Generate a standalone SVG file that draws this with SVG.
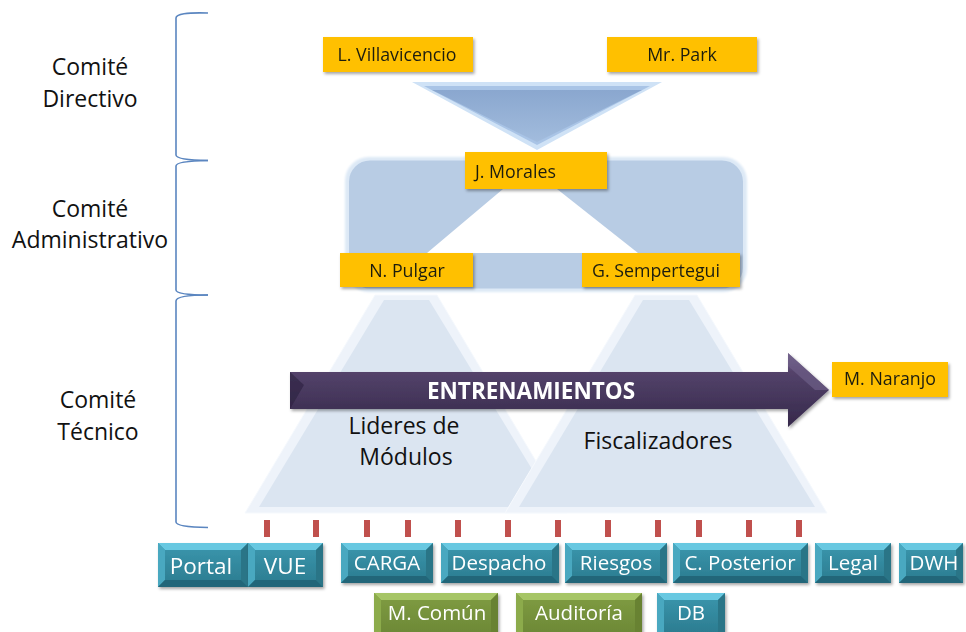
<svg xmlns="http://www.w3.org/2000/svg" width="966" height="632" viewBox="0 0 966 632">
<defs>
  <filter id="sh" x="-10%" y="-10%" width="130%" height="140%">
    <feDropShadow dx="1.5" dy="2" stdDeviation="1.5" flood-color="#000" flood-opacity="0.35"/>
  </filter>
  <filter id="glow" x="-10%" y="-10%" width="120%" height="120%">
    <feGaussianBlur stdDeviation="1.2"/>
  </filter>
  <linearGradient id="teal" x1="0" y1="0" x2="0" y2="1">
    <stop offset="0" stop-color="#3B97AE"/>
    <stop offset="1" stop-color="#2B7B8F"/>
  </linearGradient>
  <linearGradient id="green" x1="0" y1="0" x2="0" y2="1">
    <stop offset="0" stop-color="#809D42"/>
    <stop offset="1" stop-color="#6C8836"/>
  </linearGradient>
  <linearGradient id="purple" x1="0" y1="0" x2="0" y2="1">
    <stop offset="0" stop-color="#7D6C95"/>
    <stop offset="0.25" stop-color="#54436B"/>
    <stop offset="1" stop-color="#35284A"/>
  </linearGradient>
  <linearGradient id="funnel" x1="0" y1="0" x2="0" y2="1">
    <stop offset="0" stop-color="#8AA7CF"/>
    <stop offset="1" stop-color="#A2BCDD"/>
  </linearGradient>
  <style>
    .lbl{font-family:"Open Sans","Liberation Sans",sans-serif;font-size:23px;fill:#111;text-anchor:middle}
    .name{font-family:"Open Sans","Liberation Sans",sans-serif;font-size:17.8px;fill:#1E1E10;text-anchor:middle}
    .orange{fill:#FFC000}
    .mod{font-family:"Open Sans","Liberation Sans",sans-serif;font-size:20.5px;fill:#FFFFFF;text-anchor:middle}
    .brace{fill:none;stroke:#5B86C0;stroke-width:1.6}
    .tick{fill:#C0504D}
    .tri-out{fill:#EEF3FA;stroke:#F6F9FD;stroke-width:1}
    .tri-in{fill:#DBE5F1}
    .bt{fill:#68C8E1}.bl{fill:#48A8C0}.br{fill:#2A7487}.bb{fill:#246679}
    .gt{fill:#A6C566}.gl{fill:#8CAB4C}.gr{fill:#688232}.gb{fill:#5A712B}
  </style>
</defs>
<rect width="966" height="632" fill="#FFFFFF"/>

<!-- level labels -->
<g id="label-directivo">
  <text class="lbl" x="90" y="75">Comité</text>
  <text class="lbl" x="90" y="107">Directivo</text>
</g>
<g id="label-administrativo">
  <text class="lbl" x="90" y="217">Comité</text>
  <text class="lbl" x="90" y="248">Administrativo</text>
</g>
<g id="label-tecnico">
  <text class="lbl" x="98" y="408">Comité</text>
  <text class="lbl" x="98" y="440">Técnico</text>
</g>

<!-- brackets -->
<g id="brackets">
  <path class="brace" d="M208,13 Q176,12 176,18 V155 Q176,160 208,160.5"/>
  <path class="brace" d="M208,160.5 Q176,161 176,166 V290 Q176,295 208,295"/>
  <path class="brace" d="M208,295 Q176,295 176,301 V522 Q176,527 208,527.5"/>
</g>

<!-- Directivo funnel -->
<g id="funnel-directivo">
  <polygon points="412,82 662,82 537,150" fill="#CFE2F6"/>
  <polygon points="424,86 650,86 537,145" fill="#A9C4E6"/>
  <polygon points="432,90 642,90 537,142" fill="url(#funnel)"/>
</g>

<!-- Administrativo panel -->
<g id="panel-administrativo">
  <rect x="345" y="157" width="402" height="135" rx="24" fill="#DDE9F6" filter="url(#glow)"/>
  <rect x="349" y="160.5" width="394" height="128" rx="21" fill="#B8CCE4"/>
  <polygon points="503,189 557,189 638,253 427,253" fill="#FFFFFF"/>
</g>

<!-- Tecnico triangles -->
<g id="triangle-lideres">
  <polygon class="tri-out" points="375,295 437,295 567,513 245,513"/>
  <polygon class="tri-in" points="384,300 429,300 555,507 259,507"/>
  <text class="lbl" x="404" y="434">Lideres de</text>
  <text class="lbl" x="406" y="465">Módulos</text>
</g>
<g id="triangle-fiscalizadores">
  <polygon class="tri-out" points="635,295 697,295 827,513 505,513"/>
  <polygon class="tri-in" points="643,300 689,300 815,507 519,507"/>
  <text class="lbl" x="658" y="449">Fiscalizadores</text>
</g>

<!-- people -->
<g id="node-villavicencio" filter="url(#sh)">
  <rect class="orange" x="323" y="37" width="150" height="35"/>
  <text class="name" x="397" y="61">L. Villavicencio</text>
</g>
<g id="node-park" filter="url(#sh)">
  <rect class="orange" x="607" y="37" width="150" height="35"/>
  <text class="name" x="682" y="61">Mr. Park</text>
</g>
<g id="node-morales" filter="url(#sh)">
  <rect class="orange" x="465" y="152" width="142" height="37"/>
  <text class="name" x="475" y="178" style="text-anchor:start">J. Morales</text>
</g>
<g id="node-pulgar" filter="url(#sh)">
  <rect class="orange" x="340" y="253" width="133" height="34"/>
  <text class="name" x="407" y="277">N. Pulgar</text>
</g>
<g id="node-sempertegui" filter="url(#sh)">
  <rect class="orange" x="582" y="253" width="158" height="34"/>
  <text class="name" x="656" y="277">G. Sempertegui</text>
</g>

<!-- training arrow -->
<g id="arrow-entrenamientos" filter="url(#sh)">
  <path d="M290,372 H788 V353 L829,390 L788,427 V409 H290 Z" fill="url(#purple)"/>
  <path d="M290,372 L304,385 L290,409 Z" fill="#2C2140" opacity="0.6"/>
  <path d="M788,353 L829,390 L815,390 L788,366 Z" fill="#6E5E88" opacity="0.7"/>
  <text x="531" y="399" style="font-family:'Open Sans','Liberation Sans',sans-serif;font-size:22.5px;font-weight:bold;fill:#FFFFFF;text-anchor:middle">ENTRENAMIENTOS</text>
</g>

<g id="node-naranjo" filter="url(#sh)">
  <rect class="orange" x="832" y="362" width="116" height="35"/>
  <text class="name" x="890" y="385">M. Naranjo</text>
</g>

<!-- red ticks -->
<g id="connectors">
  <rect class="tick" x="264" y="520" width="6" height="17"/>
  <rect class="tick" x="313" y="520" width="6" height="17"/>
  <rect class="tick" x="364" y="520" width="6" height="17"/>
  <rect class="tick" x="405" y="520" width="6" height="17"/>
  <rect class="tick" x="455" y="520" width="6" height="17"/>
  <rect class="tick" x="505" y="520" width="6" height="17"/>
  <rect class="tick" x="555" y="520" width="6" height="17"/>
  <rect class="tick" x="605" y="520" width="6" height="17"/>
  <rect class="tick" x="655" y="520" width="6" height="17"/>
  <rect class="tick" x="696" y="520" width="6" height="17"/>
  <rect class="tick" x="746" y="520" width="6" height="17"/>
  <rect class="tick" x="796" y="520" width="6" height="17"/>
</g>

<!-- modules row 1 -->
<g id="mod-portal" filter="url(#sh)">
  <rect x="158" y="543" width="90" height="44" fill="url(#teal)"/>
  <polygon class="bt" points="158,543 248,543 241,550 165,550"/>
  <polygon class="bl" points="158,543 165,550 165,580 158,587"/>
  <polygon class="br" points="248,543 248,587 241,580 241,550"/>
  <polygon class="bb" points="158,587 165,580 241,580 248,587"/>
  <text class="mod" x="201" y="574" style="font-size:22.5px">Portal</text>
</g>
<g id="mod-vue" filter="url(#sh)">
  <rect x="248" y="543" width="75" height="44" fill="url(#teal)"/>
  <polygon class="bt" points="248,543 323,543 316,550 255,550"/>
  <polygon class="bl" points="248,543 255,550 255,580 248,587"/>
  <polygon class="br" points="323,543 323,587 316,580 316,550"/>
  <polygon class="bb" points="248,587 255,580 316,580 323,587"/>
  <text class="mod" x="285" y="574" style="font-size:22.5px">VUE</text>
</g>
<g id="mod-carga" filter="url(#sh)">
  <rect x="341" y="543" width="92" height="40" fill="url(#teal)"/>
  <polygon class="bt" points="341,543 433,543 426,550 348,550"/>
  <polygon class="bl" points="341,543 348,550 348,576 341,583"/>
  <polygon class="br" points="433,543 433,583 426,576 426,550"/>
  <polygon class="bb" points="341,583 348,576 426,576 433,583"/>
  <text class="mod" x="387" y="570">CARGA</text>
</g>
<g id="mod-despacho" filter="url(#sh)">
  <rect x="441" y="543" width="118" height="40" fill="url(#teal)"/>
  <polygon class="bt" points="441,543 559,543 552,550 448,550"/>
  <polygon class="bl" points="441,543 448,550 448,576 441,583"/>
  <polygon class="br" points="559,543 559,583 552,576 552,550"/>
  <polygon class="bb" points="441,583 448,576 552,576 559,583"/>
  <text class="mod" x="499" y="570">Despacho</text>
</g>
<g id="mod-riesgos" filter="url(#sh)">
  <rect x="565" y="543" width="102" height="40" fill="url(#teal)"/>
  <polygon class="bt" points="565,543 667,543 660,550 572,550"/>
  <polygon class="bl" points="565,543 572,550 572,576 565,583"/>
  <polygon class="br" points="667,543 667,583 660,576 660,550"/>
  <polygon class="bb" points="565,583 572,576 660,576 667,583"/>
  <text class="mod" x="616" y="570">Riesgos</text>
</g>
<g id="mod-posterior" filter="url(#sh)">
  <rect x="673" y="543" width="135" height="40" fill="url(#teal)"/>
  <polygon class="bt" points="673,543 808,543 801,550 680,550"/>
  <polygon class="bl" points="673,543 680,550 680,576 673,583"/>
  <polygon class="br" points="808,543 808,583 801,576 801,550"/>
  <polygon class="bb" points="673,583 680,576 801,576 808,583"/>
  <text class="mod" x="740" y="570">C. Posterior</text>
</g>
<g id="mod-legal" filter="url(#sh)">
  <rect x="815" y="543" width="76" height="40" fill="url(#teal)"/>
  <polygon class="bt" points="815,543 891,543 884,550 822,550"/>
  <polygon class="bl" points="815,543 822,550 822,576 815,583"/>
  <polygon class="br" points="891,543 891,583 884,576 884,550"/>
  <polygon class="bb" points="815,583 822,576 884,576 891,583"/>
  <text class="mod" x="853" y="570">Legal</text>
</g>
<g id="mod-dwh" filter="url(#sh)">
  <rect x="899" y="543" width="64" height="40" fill="url(#teal)"/>
  <polygon class="bt" points="899,543 963,543 956,550 906,550"/>
  <polygon class="bl" points="899,543 906,550 906,576 899,583"/>
  <polygon class="br" points="963,543 963,583 956,576 956,550"/>
  <polygon class="bb" points="899,583 906,576 956,576 963,583"/>
  <text class="mod" x="934" y="570">DWH</text>
</g>

<!-- modules row 2 -->
<g id="mod-comun" filter="url(#sh)">
  <rect x="374" y="593" width="124" height="42" fill="url(#green)"/>
  <polygon class="gt" points="374,593 498,593 491,600 381,600"/>
  <polygon class="gl" points="374,593 381,600 381,635 374,635"/>
  <polygon class="gr" points="498,593 498,635 491,635 491,600"/>
  <text class="mod" x="437" y="620">M. Común</text>
</g>
<g id="mod-auditoria" filter="url(#sh)">
  <rect x="516" y="593" width="126" height="42" fill="url(#green)"/>
  <polygon class="gt" points="516,593 642,593 635,600 523,600"/>
  <polygon class="gl" points="516,593 523,600 523,635 516,635"/>
  <polygon class="gr" points="642,593 642,635 635,635 635,600"/>
  <text class="mod" x="579" y="620">Auditoría</text>
</g>
<g id="mod-db" filter="url(#sh)">
  <rect x="657" y="593" width="68" height="42" fill="url(#teal)"/>
  <polygon class="bt" points="657,593 725,593 718,600 664,600"/>
  <polygon class="bl" points="657,593 664,600 664,635 657,635"/>
  <polygon class="br" points="725,593 725,635 718,635 718,600"/>
  <text class="mod" x="691" y="620">DB</text>
</g>
</svg>
